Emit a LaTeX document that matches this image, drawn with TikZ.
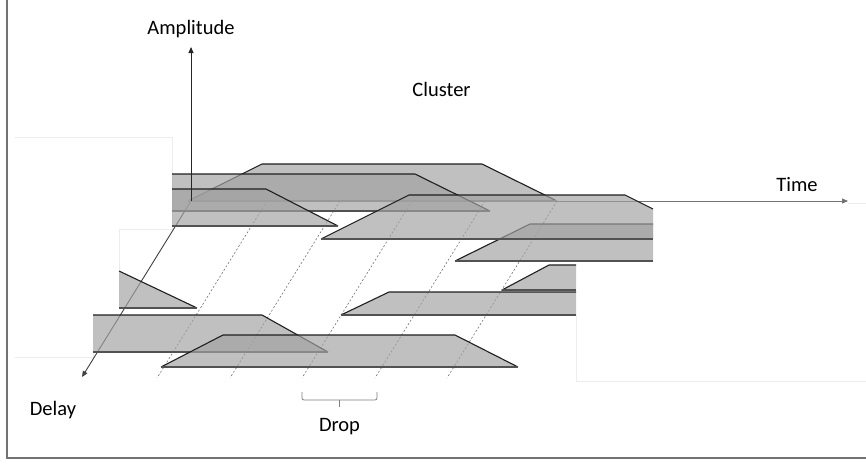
\documentclass[tikz,border=0pt]{standalone}
\usepackage{fontspec}
\setmainfont{Carlito}
\usetikzlibrary{arrows.meta}
\definecolor{bandgray}{gray}{0.635}

\begin{document}
\begin{tikzpicture}[x=1pt,y=-1pt,
        bandfill/.style={fill=bandgray,fill opacity=0.68},
        bandrim/.style={draw=black!88,line width=1.1pt,line join=round},
        bandfloor/.style={draw=black!68,line width=1.5pt},
        planeline/.style={draw=black!7,line width=0.6pt},
        dropline/.style={draw=black!55,line width=0.6pt,dash pattern=on 2pt off 2pt},
        axisline/.style={line width=0.9pt,-{Triangle[length=6pt,width=5pt]}}]
        \useasboundingbox (0,0) rectangle (866,463);
        \draw[black!55,line width=1.5pt] (7,0) -- (7,458) -- (866,458);

        \draw[planeline] (15,137) -- (172,137) -- (172,229) -- (119,229) -- (119,271);
        \draw[planeline] (15,357) -- (93,357) -- (93,352);
        \draw[planeline] (576,315) -- (576,381) -- (866,381);
        \draw[planeline] (848,203) -- (866,203);

        \coordinate (o) at (191,201);
        \coordinate (amp) at (191,47);
        \coordinate (time) at (848,201);
        \coordinate (delay) at (82,377);

        \foreach \x in {267,340,412,485,557}
            \draw[dropline] (\x,201) -- ++(-110,177);
        \draw[axisline,draw=black!55] (o) -- (time);
        \draw[axisline,draw=black!75] (o) -- (delay);

        \begin{scope}
            \fill[bandfill] (188,201) -- (262,164) -- (482,164) -- (557,201) -- cycle;
            \draw[bandrim] (188,201) -- (262,164) -- (482,164) -- (557,201);
            \draw[black!50,line width=1.2pt] (188,201) -- (557,201);

            \fill[bandfill] (172,174) -- (415,174) -- (490,211) -- (172,211) -- cycle;
            \draw[bandrim] (172,174) -- (415,174) -- (490,211);
            \draw[bandfloor] (172,211) -- (490,211);

            \fill[bandfill] (172,189) -- (266,189) -- (338,226) -- (172,226) -- cycle;
            \draw[bandrim] (172,189) -- (266,189) -- (338,226);
            \draw[bandfloor] (172,226) -- (338,226);

            \fill[bandfill] (455,261) -- (530,224) -- (653,224) -- (653,261) -- cycle;
            \draw[bandrim] (455,261) -- (530,224) -- (653,224);
            \draw[bandfloor] (455,261) -- (653,261);

            \fill[bandfill] (321,239) -- (409,195) -- (625,195) -- (653,209) -- (653,239) -- cycle;
            \draw[bandrim] (321,239) -- (409,195) -- (625,195) -- (653,209);
            \draw[bandfloor] (321,239) -- (653,239);

            \fill[bandfill] (119,271) -- (197,308) -- (119,308) -- cycle;
            \draw[bandrim] (119,271) -- (197,308);
            \draw[bandfloor] (119,308) -- (197,308);

            \fill[bandfill] (502,290) -- (549,265) -- (576,265) -- (576,290) -- cycle;
            \draw[bandrim] (502,290) -- (549,265) -- (576,265);
            \draw[bandfloor] (502,290) -- (576,290);

            \fill[bandfill] (341,315) -- (389,292) -- (576,292) -- (576,315) -- cycle;
            \draw[bandrim] (341,315) -- (389,292) -- (576,292);
            \draw[bandfloor] (341,315) -- (576,315);

            \fill[bandfill] (93,315) -- (262,315) -- (328,352) -- (93,352) -- cycle;
            \draw[bandrim] (93,315) -- (262,315) -- (328,352);
            \draw[bandfloor] (93,352) -- (328,352);

            \fill[bandfill] (161,367) -- (223,335) -- (455,335) -- (518,367) -- cycle;
            \draw[bandrim] (161,367) -- (223,335) -- (455,335) -- (518,367);
            \draw[bandfloor] (161,367) -- (518,367);
        \end{scope}

        \draw[axisline,draw=black!85] (o) -- (amp);

        \draw[black!50,line width=0.8pt,rounded corners=2pt] (302,392) -- (302,400) -- (377,400) -- (377,392);
        \draw[black!50,line width=0.8pt] (339.5,400) -- (339.5,407);

        \begin{scope}[every node/.style={anchor=base,inner sep=0pt,font=\fontsize{20.5}{24}\selectfont}]
            \node (amplitude) at (191,34) {Amplitude};
            \node (cluster) at (441.5,96) {Cluster};
            \node (timelabel) at (797,191) {Time};
            \node (delaylabel) at (53,415) {Delay};
            \node (drop) at (339.5,431) {Drop};
        \end{scope}
    \end{tikzpicture}
\end{document}
